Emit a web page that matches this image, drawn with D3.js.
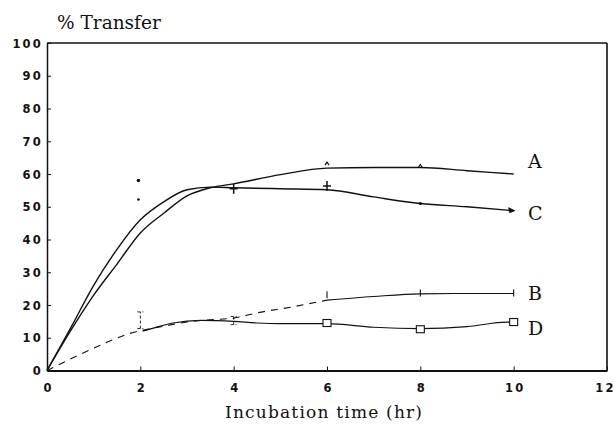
<!DOCTYPE html>
<html>
<head>
<meta charset="utf-8">
<script src="https://cdn.jsdelivr.net/npm/d3@7"></script>
<style>
  html, body { margin: 0; padding: 0; background: #fff; }
  svg { display: block; }
</style>
</head>
<body>
<svg id="chart" width="615" height="429"></svg>
<script>
// ---- data ----
const xTicks = [0, 2, 4, 6, 8, 10, 12];
const yTicks = [0, 10, 20, 30, 40, 50, 60, 70, 80, 90, 100];

const curveA_x = [0, 0.5, 1, 1.5, 2, 2.5, 3, 3.5, 4, 5, 6, 7, 8, 9, 10];
const curveA_y = [0, 12, 23, 32.5, 42, 48, 53.3, 55.8, 57, 59.8, 61.8, 62, 62, 61, 60];

const curveC_x = [0, 0.5, 1, 1.5, 2, 2.5, 3, 3.5, 4, 5, 6, 7, 8, 9, 10];
const curveC_y = [0, 12.8, 26, 37, 46, 51.5, 55.2, 56, 55.8, 55.5, 55.2, 53, 51, 50, 48.8];

const curveB_x = [0, 1, 1.75, 2.5, 3, 3.5, 4, 4.5, 5.25, 6, 7, 8, 9, 10];
const curveB_y = [0, 6.8, 11.2, 13.5, 14.8, 15.5, 16, 17.6, 19.4, 21.5, 22.6, 23.4, 23.5, 23.5];

const curveD_x = [2.05, 2.3, 2.7, 3.3, 4, 4.5, 5, 6, 7, 8, 9, 9.85, 10];
const curveD_y = [12, 13, 14.5, 15.3, 15, 14.5, 14.3, 14.3, 13.2, 12.8, 13.4, 14.8, 14.8];

const markA_x = [6, 8];
const markA_y = [63, 62.3];
const markC_x = [4, 6];
const markC_y = [55.5, 56.3];
const dotC_x = [8];
const dotC_y = [51];
const scatter_x = [1.96, 1.96];
const scatter_y = [58, 52.2];
const errB_x = [2, 4];
const errB_lo = [12.8, 14];
const errB_hi = [17.9, 16.5];
const tickB_x = [6, 8, 10];
const tickB_y = [23, 23.5, 23.5];
const squareD_x = [6, 8, 10];
const squareD_y = [14.5, 12.6, 14.8];

const seriesLabels = ["A", "C", "B", "D"];
const seriesLabelY = [64, 48.2, 23.6, 13];

// ---- chart ----
const svg = d3.select("#chart");
const x = d3.scaleLinear().domain([0, 12]).range([47, 607]);
const y = d3.scaleLinear().domain([0, 100]).range([370.5, 43]);
const ink = "#111";
const serif = "'DejaVu Serif', 'Liberation Serif', serif";

// frame
svg.append("line").attr("x1", x(0)).attr("x2", x(12)).attr("y1", y(100)).attr("y2", y(100))
  .attr("stroke", ink).attr("stroke-width", 1.3);
svg.append("line").attr("x1", x(12)).attr("x2", x(12)).attr("y1", y(100)).attr("y2", y(0))
  .attr("stroke", ink).attr("stroke-width", 1.6);

// axes
const yAxis = svg.append("g").attr("transform", `translate(${x(0)},0)`)
  .call(d3.axisLeft(y).tickValues(yTicks).tickSize(-4).tickPadding(4).tickSizeOuter(0));
const xAxis = svg.append("g").attr("transform", `translate(0,${y(0)})`)
  .call(d3.axisBottom(x).tickValues(xTicks).tickSize(-4).tickPadding(13).tickSizeOuter(0));

[yAxis, xAxis].forEach(g => {
  g.attr("font-family", null).attr("font-size", null);
  g.select(".domain").attr("stroke", ink);
  g.selectAll(".tick line").attr("stroke", ink).attr("stroke-width", 1);
  g.selectAll(".tick text")
    .attr("fill", ink)
    .style("font-family", "'DejaVu Sans', sans-serif")
    .style("font-weight", "bold")
    .style("font-size", "11.5px")
    .style("letter-spacing", "2.2px");
});
yAxis.select(".domain").attr("stroke-width", 1.5);
xAxis.select(".domain").attr("stroke-width", 2);
yAxis.selectAll(".tick text").attr("dy", "0.36em");
xAxis.selectAll(".tick text").attr("dx", "1.1px");
xAxis.selectAll(".tick").filter(d => d === 12).select("text").attr("dx", "-2px");

// titles
svg.append("text").attr("x", 57).attr("y", 29)
  .style("font-family", serif).style("font-size", "18.5px")
  .attr("fill", ink).text("% Transfer");
svg.append("text").attr("x", 225).attr("y", 418)
  .style("font-family", serif).style("font-size", "17px")
  .style("letter-spacing", "1.2px")
  .attr("fill", ink).text("Incubation time (hr)");

// curves
const line = d3.line().x(d => x(d[0])).y(d => y(d[1])).curve(d3.curveMonotoneX);
const zip = (xs, ys) => xs.map((v, i) => [v, ys[i]]);

svg.append("path").datum(zip(curveA_x, curveA_y)).attr("d", line)
  .attr("fill", "none").attr("stroke", ink).attr("stroke-width", 1.4);
svg.append("path").datum(zip(curveC_x, curveC_y)).attr("d", line)
  .attr("fill", "none").attr("stroke", ink).attr("stroke-width", 1.4);

// B: dashed in first part, solid in the last part
const bPts = zip(curveB_x, curveB_y);
svg.append("path").datum(bPts.filter(d => d[0] <= 6)).attr("d", line)
  .attr("fill", "none").attr("stroke", ink).attr("stroke-width", 1.1)
  .attr("stroke-dasharray", "7,6");
svg.append("path").datum(bPts.filter(d => d[0] >= 6)).attr("d", line)
  .attr("fill", "none").attr("stroke", ink).attr("stroke-width", 1.1);

svg.append("path").datum(zip(curveD_x, curveD_y)).attr("d", line)
  .attr("fill", "none").attr("stroke", ink).attr("stroke-width", 1.2);

// markers
const mk = svg.append("g").attr("stroke", ink).attr("fill", ink);

// scatter points near t=2
mk.selectAll(".sc").data(zip(scatter_x, scatter_y)).join("circle")
  .attr("cx", d => x(d[0])).attr("cy", d => y(d[1])).attr("r", (d, i) => i === 0 ? 1.8 : 1.3)
  .attr("stroke", "none");

// A: small ticks
mk.selectAll(".ma").data(zip(markA_x, markA_y)).join("path")
  .attr("d", d => `M${x(d[0]) - 2},${y(d[1]) + 1}L${x(d[0])},${y(d[1]) - 2}L${x(d[0]) + 2},${y(d[1]) + 1}`)
  .attr("fill", "none").attr("stroke-width", 1.2);

// C: plus markers
mk.selectAll(".mc").data(zip(markC_x, markC_y)).join("path")
  .attr("d", d => `M${x(d[0]) - 4},${y(d[1])}H${x(d[0]) + 4}M${x(d[0])},${y(d[1]) - 5}V${y(d[1]) + 5}`)
  .attr("fill", "none").attr("stroke-width", 1.5);
mk.selectAll(".dc").data(zip(dotC_x, dotC_y)).join("circle")
  .attr("cx", d => x(d[0])).attr("cy", d => y(d[1])).attr("r", 1.6).attr("stroke", "none");
// C: arrowhead at end
const cEnd = [curveC_x[curveC_x.length - 1], curveC_y[curveC_y.length - 1]];
mk.append("path")
  .attr("d", `M${x(cEnd[0]) + 1},${y(cEnd[1])}L${x(cEnd[0]) - 5},${y(cEnd[1]) - 3}L${x(cEnd[0]) - 4},${y(cEnd[1]) + 2}Z`)
  .attr("stroke-width", 0.8);

// B: error bars and ticks
mk.selectAll(".eb").data(errB_x.map((v, i) => [v, errB_lo[i], errB_hi[i]])).join("path")
  .attr("d", d => `M${x(d[0])},${y(d[1])}V${y(d[2])}M${x(d[0]) - 3},${y(d[1])}H${x(d[0]) + 3}M${x(d[0]) - 3},${y(d[2])}H${x(d[0]) + 3}`)
  .attr("fill", "none").attr("stroke-width", 0.9).attr("stroke-dasharray", "3,2");
mk.selectAll(".tb").data(zip(tickB_x, tickB_y)).join("path")
  .attr("d", d => `M${x(d[0])},${y(d[1]) - 4}V${y(d[1]) + 3}`)
  .attr("fill", "none").attr("stroke-width", 1.1);

// D: squares
mk.selectAll(".sq").data(zip(squareD_x, squareD_y)).join("rect")
  .attr("x", d => x(d[0]) - 4).attr("y", d => y(d[1]) - 3.5)
  .attr("width", 8).attr("height", 7)
  .attr("fill", "#fff").attr("stroke-width", 1.1);

// series labels
svg.selectAll(".lab").data(seriesLabels).join("text")
  .attr("x", 528).attr("y", (d, i) => y(seriesLabelY[i]))
  .attr("dominant-baseline", "central")
  .style("font-family", serif).style("font-size", "19px")
  .attr("fill", ink).text(d => d);
</script>
</body>
</html>
